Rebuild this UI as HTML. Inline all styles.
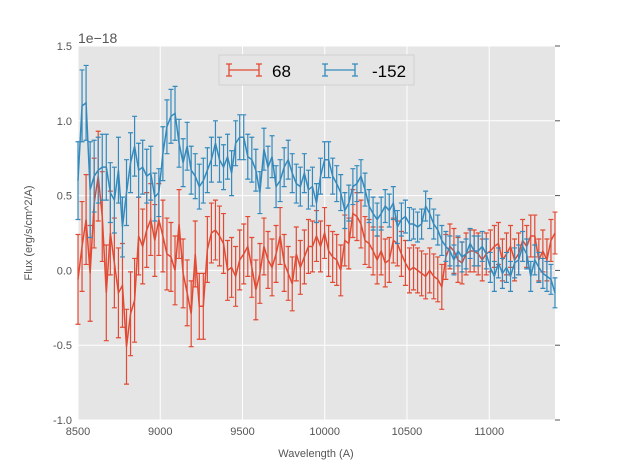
<!DOCTYPE html>
<html><head><meta charset="utf-8"><style>
body{margin:0;background:#fff;}
svg text{font-family:"Liberation Sans",sans-serif;}
</style></head><body>
<svg id="chart" width="617" height="467">
<rect x="78" y="46" width="477" height="374" fill="#e5e5e5"/>
<g id="grid"></g><g id="ticks"></g><g id="series"></g>
<text x="78" y="43" font-size="14" fill="#555">1e−18</text>
<text x="32" y="233" font-size="11" fill="#555" text-anchor="middle" transform="rotate(-90 32 233)">Flux (erg/s/cm^2/A)</text>
<text x="316" y="457" font-size="11" fill="#555" text-anchor="middle">Wavelength (A)</text>
<g>
<rect x="219" y="55" width="195" height="30" fill="#e5e5e5" stroke="#ccc" stroke-width="0.8"/>
<g>
<path d="M229 70H259M229 64V76M259 64V76M226 64H232M226 76H232M256 64H262M256 76H262" stroke="#E24A33" stroke-width="1.3" fill="none"/>
<text x="272" y="77" font-size="17" fill="#000">68</text></g>
<g>
<path d="M325 70H355M325 64V76M355 64V76M322 64H328M322 76H328M352 64H358M352 76H358" stroke="#348ABD" stroke-width="1.3" fill="none"/>
<text x="372" y="77" font-size="17" fill="#000">-152</text></g>
</g>
</svg>
<script>
const xTicks=[8500,9000,9500,10000,10500,11000];
const yTicks=[-1.0,-0.5,0.0,0.5,1.0,1.5];
const fluxRed=[-0.06,0.16,0.34,-0.02,0.45,0.63,0.36,-0.15,0.25,0.05,-0.15,-0.1,-0.51,-0.29,-0.2,0.23,0.16,0.27,0.34,0.2,0.34,0.23,0.11,0.09,0.0,0.31,-0.02,-0.15,-0.29,0.11,-0.24,
-0.24,0.14,0.25,0.27,0.23,0.18,0.0,0.02,-0.04,0.07,0.11,0.16,0.02,-0.13,-0.02,0.16,0.07,0.02,0.11,0.23,0.05,-0.02,-0.09,0.11,0.02,0.09,0.16,0.16,0.23,0.16,0.25,
0.13,0.09,0.07,0.0,0.2,0.18,0.38,0.36,0.31,0.2,0.18,0.13,0.07,0.13,0.05,0.07,0.2,0.18,0.11,0.05,0.0,0.02,0.0,-0.02,-0.04,0.0,-0.04,-0.06,-0.11,
0.09,0.16,0.13,0.07,0.05,0.11,0.13,0.13,0.11,0.07,0.11,0.13,0.16,0.18,0.07,0.11,0.16,0.07,0.11,0.2,0.16,0.23,0.23,0.07,0.13,0.07,0.2,0.25];
const fluxBlue=[0.6,1.1,1.12,0.54,0.63,0.67,0.69,0.69,0.52,0.47,0.67,0.29,0.52,0.72,0.83,0.67,0.69,0.63,0.65,0.49,0.52,0.78,0.96,1.03,1.05,0.85,0.72,0.83,0.67,0.63,0.56,
0.6,0.67,0.74,0.85,0.74,0.69,0.76,0.65,0.85,0.89,0.89,0.76,0.74,0.67,0.52,0.81,0.69,0.76,0.56,0.6,0.69,0.74,0.65,0.58,0.56,0.65,0.54,0.56,0.45,0.63,0.74,
0.74,0.63,0.58,0.52,0.4,0.45,0.56,0.58,0.63,0.54,0.43,0.38,0.34,0.38,0.43,0.4,0.45,0.29,0.34,0.36,0.31,0.31,0.29,0.31,0.43,0.38,0.31,0.27,0.2,
0.16,0.13,0.07,0.13,0.09,0.11,0.18,0.13,0.13,0.16,0.11,0.02,-0.04,0.05,-0.02,0.02,-0.04,0.05,0.07,0.16,0.11,-0.04,0.07,0.02,-0.02,-0.04,-0.06,-0.15];
const errRed=[0.3,0.3,0.3,0.32,0.3,0.3,0.3,0.32,0.28,0.3,0.3,0.28,0.25,0.28,0.28,0.26,0.25,0.25,0.24,0.24,0.24,0.24,0.24,0.23,0.23,0.23,0.23,0.22,0.22,0.22,0.22,
0.22,0.22,0.2,0.2,0.2,0.2,0.2,0.2,0.2,0.2,0.2,0.2,0.2,0.2,0.2,0.19,0.19,0.19,0.19,0.19,0.19,0.18,0.18,0.18,0.18,0.18,0.18,0.17,0.17,0.17,0.17,
0.17,0.17,0.17,0.17,0.17,0.17,0.16,0.16,0.16,0.16,0.16,0.16,0.16,0.16,0.16,0.15,0.15,0.15,0.15,0.15,0.15,0.15,0.15,0.15,0.15,0.15,0.15,0.15,0.15,
0.15,0.15,0.15,0.15,0.14,0.14,0.14,0.14,0.14,0.14,0.14,0.14,0.14,0.14,0.14,0.14,0.14,0.14,0.14,0.14,0.14,0.14,0.14,0.14,0.14,0.14,0.14,0.14];
const errBlue=[0.26,0.24,0.25,0.32,0.24,0.22,0.22,0.22,0.2,0.22,0.22,0.2,0.22,0.2,0.2,0.18,0.18,0.18,0.18,0.16,0.16,0.18,0.18,0.18,0.18,0.16,0.16,0.16,0.16,0.15,0.15,
0.15,0.15,0.15,0.15,0.15,0.15,0.15,0.15,0.15,0.15,0.15,0.15,0.15,0.14,0.14,0.14,0.14,0.14,0.14,0.14,0.13,0.13,0.13,0.13,0.13,0.13,0.13,0.13,0.13,0.12,0.12,
0.12,0.12,0.12,0.12,0.12,0.12,0.12,0.12,0.11,0.11,0.11,0.11,0.11,0.11,0.11,0.11,0.11,0.11,0.11,0.11,0.11,0.1,0.1,0.1,0.1,0.1,0.1,0.1,0.1,
0.1,0.1,0.1,0.1,0.1,0.1,0.1,0.1,0.1,0.1,0.1,0.1,0.1,0.1,0.1,0.1,0.1,0.1,0.1,0.1,0.1,0.1,0.1,0.1,0.1,0.1,0.1,0.1];
const NS='http://www.w3.org/2000/svg';
const X0=78,X1=555,Y0=46,Y1=420,XMIN=8500,XMAX=11400,YMIN=-1.0,YMAX=1.5;
const sx=v=>X0+(v-XMIN)/(XMAX-XMIN)*(X1-X0);
const sy=v=>Y1-(v-YMIN)/(YMAX-YMIN)*(Y1-Y0);
const wl=i=>XMIN+i*(XMAX-XMIN)/(fluxRed.length-1);
function mk(tag,attrs,parent){const e=document.createElementNS(NS,tag);for(const k in attrs)e.setAttribute(k,attrs[k]);parent.appendChild(e);return e;}
const grid=document.getElementById('grid'),ticks=document.getElementById('ticks'),series=document.getElementById('series');
xTicks.forEach(t=>{
 const l=mk('line',{x1:sx(t),x2:sx(t),y1:Y0,y2:Y1,stroke:'#fff','stroke-width':1},grid);
 
 
 const tx=mk('text',{x:sx(t),y:Y1+15,'font-size':11,fill:'#555','text-anchor':'middle'},ticks);
 tx.textContent=t;
 
 
});
yTicks.forEach(t=>{
 const l=mk('line',{x1:X0,x2:X1,y1:sy(t),y2:sy(t),stroke:'#fff','stroke-width':1},grid);
 
 
 mk('line',{x1:X1,x2:X1+5,y1:sy(t),y2:sy(t),stroke:'#555','stroke-width':1},ticks);
 const tx=mk('text',{x:X0-6,y:sy(t)+4,'font-size':11,fill:'#555','text-anchor':'end'},ticks);
 tx.textContent=t.toFixed(1);
 
 
});
function drawSeries(vals,errs,color,name){
 const g=mk('g',{},series);
 
 
 let d='';
 vals.forEach((v,i)=>{
  const x=sx(wl(i)),yt=sy(v+errs[i]),yb=sy(v-errs[i]);
  d+=`M${x} ${yt}V${yb}M${x-2.5} ${yt}H${x+2.5}M${x-2.5} ${yb}H${x+2.5}`;
 });
 const eb=mk('path',{d:d,stroke:color,'stroke-width':1.2,fill:'none'},g);
 
 
 const pts=vals.map((v,i)=>sx(wl(i))+','+sy(v)).join(' ');
 const ln=mk('polyline',{points:pts,stroke:color,'stroke-width':1.5,fill:'none'},g);
 
 
}
drawSeries(fluxRed,errRed,'#E24A33','series-68');
drawSeries(fluxBlue,errBlue,'#348ABD','series-minus152');
</script>
</body></html>
